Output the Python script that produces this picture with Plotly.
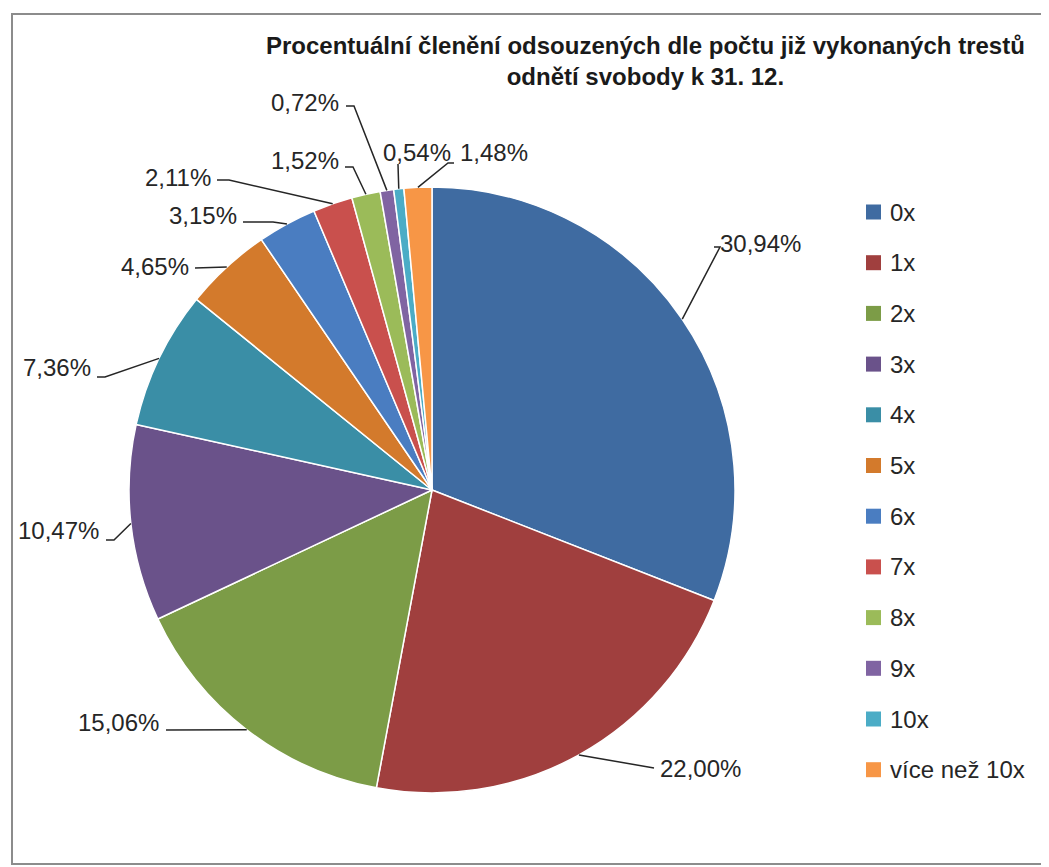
import math
import plotly.graph_objects as go

# data
labels = ["0x", "1x", "2x", "3x", "4x", "5x", "6x", "7x", "8x", "9x", "10x", "více než 10x"]
values = [30.94, 22.00, 15.06, 10.47, 7.36, 4.65, 3.15, 2.11, 1.52, 0.72, 0.54, 1.48]
colors = ["#3F6BA1", "#A03F3E", "#7C9C47", "#6A528A", "#3A8EA6", "#D37A2C",
          "#4A7DC1", "#C9504D", "#9BBB59", "#8064A2", "#4BACC6", "#F79646"]
title = "Procentuální členění odsouzených dle počtu již vykonaných trestů<br>odnětí svobody k 31. 12."

# layout constants (pixels as seen in the page)
W, H = 1049, 867
OFF = 8  # page body margin
CX, CY, R = 432, 490, 303
FONT = "Liberation Sans Narrow, Arial Narrow, Liberation Sans, Arial, sans-serif"

# where each data label sits: text x, text y, anchor, leader start x, y, elbow dx
label_pos = [
    (718, 243, "left", 714, 247, 6),
    (658, 768, "left", 654, 768, 0),
    (161, 722, "right", 166, 730, 0),
    (101, 530, "right", 106, 540, 8),
    (93, 368, "right", 97, 377, 8),
    (191, 266, "right", 195, 268, 0),
    (239, 215, "right", 243, 222, 30),
    (213, 177, "right", 217, 180, 12),
    (341, 160, "right", 345, 167, 8),
    (341, 102, "right", 346, 106, 8),
    (417, 152, "center", 398, 164, 0),
    (458, 152, "left", 454, 163, -6),
]

px = lambda x: (x - OFF) / W
py = lambda y: 1 - (y - OFF) / H

fig = go.Figure(go.Pie(
    labels=labels, values=values, sort=False, direction="clockwise", rotation=0,
    marker=dict(colors=colors, line=dict(color="white", width=1.5)),
    textinfo="none", hoverinfo="label+percent", showlegend=False,
    domain=dict(x=[px(CX - R), px(CX + R)], y=[py(CY + R), py(CY - R)]),
))

shapes = []
annotations = []

# frame
shapes.append(dict(type="rect", xref="paper", yref="paper", x0=px(12), x1=px(1075),
                   y0=py(864), y1=py(14), line=dict(color="#8c8c8c", width=2)))

# data labels with leader lines
total = sum(values)
cum = 0
for v, (tx, ty, anc, lx, ly, dx) in zip(values, label_pos):
    mid = (cum + v / 2) / total * 2 * math.pi
    cum += v
    ex = CX + R * math.sin(mid)
    ey = CY - R * math.cos(mid)
    pts = [(lx, ly)]
    if dx:
        pts.append((lx + dx, ly))
    pts.append((ex, ey))
    path = "M " + " L ".join(f"{px(a)},{py(b)}" for a, b in pts)
    shapes.append(dict(type="path", xref="paper", yref="paper", path=path,
                       line=dict(color="#262626", width=1.5)))
    annotations.append(dict(x=px(tx), y=py(ty), xref="paper", yref="paper",
                            text=f"{v:.2f}%".replace(".", ","), showarrow=False,
                            xanchor=anc, yanchor="middle",
                            font=dict(family=FONT, size=24, color="#262626")))

# legend drawn by hand
for i, (lab, col) in enumerate(zip(labels, colors)):
    y = 212 + 50.7 * i
    shapes.append(dict(type="rect", xref="paper", yref="paper",
                       x0=px(866), x1=px(881), y0=py(y + 7.5), y1=py(y - 7.5),
                       fillcolor=col, line=dict(width=0)))
    annotations.append(dict(x=px(888), y=py(y), xref="paper", yref="paper", text=lab,
                            showarrow=False, xanchor="left", yanchor="middle",
                            font=dict(family=FONT, size=24, color="#262626")))

# title
annotations.append(dict(x=px(645), y=py(30), xref="paper", yref="paper", text=title,
                        showarrow=False, xanchor="center", yanchor="top",
                        font=dict(family=FONT, size=24, color="#1a1a1a", weight="bold")))

fig.update_layout(width=W, height=H, margin=dict(l=0, r=0, t=0, b=0),
                  paper_bgcolor="white", plot_bgcolor="white",
                  shapes=shapes, annotations=annotations)
fig.write_html("out.html")
